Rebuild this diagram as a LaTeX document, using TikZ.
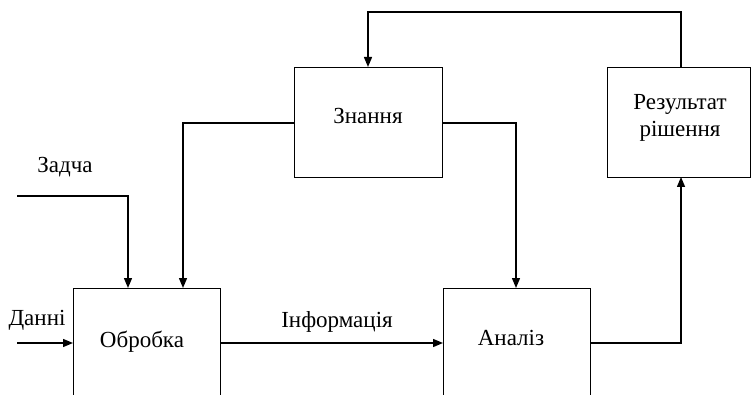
\documentclass[tikz,border=0pt]{standalone}
\usepackage{fontspec}
\setmainfont{Liberation Serif}
\usetikzlibrary{arrows.meta}
\tikzset{
  box/.style={draw, line width=1pt, inner sep=0pt, anchor=north west},
  conn/.style={line width=1.4pt},
  arr/.style={conn, -{Triangle[length=10pt,width=8pt]}},
  lbl/.style={font=\rmfamily\fontsize{23}{27}\selectfont, inner sep=0pt},
}
\begin{document}
\begin{tikzpicture}[x=1pt,y=-1pt]
\useasboundingbox (0,0) rectangle (751,395);
\clip (0,0) rectangle (751,395);
% boxes
\node[box, minimum width=147pt, minimum height=160pt] (obr) at (73,288) {};
\node[box, minimum width=147pt, minimum height=160pt] (an) at (443,288) {};
\node[box, minimum width=148pt, minimum height=110pt] (zn) at (294,67) {};
\node[box, minimum width=143pt, minimum height=110pt] (res) at (607,67) {};
% labels
\node[lbl] (tobr) at (142,342) {Обробка};
\node[lbl] (tan) at (511,338) {Аналіз};
\node[lbl] (tzn) at (368,116) {Знання};
\node[lbl, align=center] (tres) at (680,118) {Результат\\рішення};
\node[lbl] (tinf) at (337,322) {Інформація};
\node[lbl] (tzad) at (65,167) {Задча};
\node[lbl] (tdan) at (37,320) {Данні};
% coordinates
\coordinate (dstart) at (17,343);
\coordinate (zstart) at (17,196);
\coordinate (top) at (681,12);
% connectors
\draw[arr] (dstart) -- (dstart -| obr.west);
\draw[arr] (zstart) -| (128,288);
\draw[arr] (zn.west |- 0,123) -| (183,288);
\draw[arr] (zn.east |- 0,123) -| (516,288);
\draw[arr] (obr.east |- 0,343) -- (an.west |- 0,343);
\draw[arr] (an.east |- 0,343) -| (681,177);
\draw[arr] (681,67) |- (368,12) -- (368,67);
\end{tikzpicture}
\end{document}
